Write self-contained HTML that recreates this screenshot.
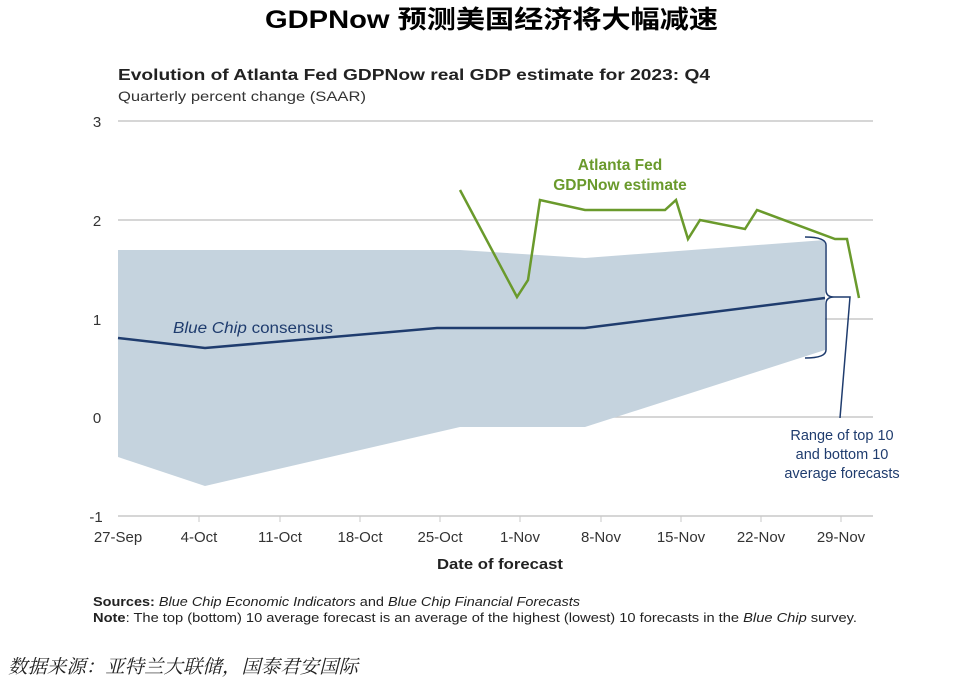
<!DOCTYPE html>
<html><head><meta charset="utf-8"><style>
body{margin:0;background:#fff;width:960px;height:681px;overflow:hidden}
svg{display:block}
</style></head><body>
<svg width="960" height="681" viewBox="0 0 960 681" xmlns="http://www.w3.org/2000/svg">
<text x="265" y="28" textLength="453" lengthAdjust="spacingAndGlyphs" font-family="Liberation Sans, Noto Sans CJK SC, sans-serif" font-size="25" font-weight="bold" fill="#000">GDPNow 预测美国经济将大幅减速</text>
<text x="118" y="80" textLength="592" lengthAdjust="spacingAndGlyphs" font-family="Liberation Sans, sans-serif" font-size="16" font-weight="bold" fill="#222">Evolution of Atlanta Fed GDPNow real GDP estimate for 2023: Q4</text>
<text x="118" y="101" textLength="248" lengthAdjust="spacingAndGlyphs" font-family="Liberation Sans, sans-serif" font-size="14" fill="#333">Quarterly percent change (SAAR)</text>
<g stroke="#c8c8c8" stroke-width="1.5">
<line x1="118" y1="121" x2="873" y2="121"/><line x1="118" y1="220" x2="873" y2="220"/>
<line x1="118" y1="319" x2="873" y2="319"/><line x1="118" y1="417" x2="873" y2="417"/>
<line x1="118" y1="516" x2="873" y2="516"/>
</g>
<g stroke="#c8c8c8" stroke-width="1">
<line x1="199" y1="516" x2="199" y2="522"/><line x1="280" y1="516" x2="280" y2="522"/><line x1="360" y1="516" x2="360" y2="522"/><line x1="440" y1="516" x2="440" y2="522"/><line x1="520" y1="516" x2="520" y2="522"/><line x1="601" y1="516" x2="601" y2="522"/><line x1="681" y1="516" x2="681" y2="522"/><line x1="761" y1="516" x2="761" y2="522"/><line x1="841" y1="516" x2="841" y2="522"/>
</g>
<g font-family="Liberation Sans, sans-serif" font-size="15" fill="#333" text-anchor="middle">
<text x="97" y="127">3</text><text x="97" y="226">2</text><text x="97" y="325">1</text><text x="97" y="423">0</text><text x="96" y="522">-1</text>
<text x="118" y="542">27-Sep</text><text x="199" y="542">4-Oct</text><text x="280" y="542">11-Oct</text><text x="360" y="542">18-Oct</text><text x="440" y="542">25-Oct</text><text x="520" y="542">1-Nov</text><text x="601" y="542">8-Nov</text><text x="681" y="542">15-Nov</text><text x="761" y="542">22-Nov</text><text x="841" y="542">29-Nov</text>
</g>
<text x="437" y="569" textLength="126" lengthAdjust="spacingAndGlyphs" font-family="Liberation Sans, sans-serif" font-size="15" font-weight="bold" fill="#222">Date of forecast</text>
<polygon points="118,250 460,250 585,258 825,240 825,350 585,427 460,427 205,486 118,457" fill="#c5d3de"/>
<polyline points="118,338 205,348 437,328 585,328 825,298" fill="none" stroke="#1f3c6e" stroke-width="2.5"/>
<polyline points="460,190 517,297 528,280 540,200 585,210 665,210 676,200 688,239 700,220 745,229 757,210 835,239 847,239 859,298" fill="none" stroke="#6a9a2c" stroke-width="2.5"/>
<path d="M805,237 Q826,237 826,245 L826,290 Q826,297 834,297 Q826,297 826,304 L826,350 Q826,358 805,358" fill="none" stroke="#1f3c6e" stroke-width="1.5"/>
<polyline points="834,297 850,297 840,418" fill="none" stroke="#1f3c6e" stroke-width="1.5"/>
<text x="173" y="333" textLength="160" lengthAdjust="spacingAndGlyphs" font-family="Liberation Sans, sans-serif" font-size="15.5" fill="#1f3c6e"><tspan font-style="italic">Blue Chip</tspan> consensus</text>
<g font-family="Liberation Sans, sans-serif" font-size="15.5" font-weight="bold" fill="#6a9a2c" text-anchor="middle">
<text x="620" y="170">Atlanta Fed</text><text x="620" y="190">GDPNow estimate</text></g>
<g font-family="Liberation Sans, sans-serif" font-size="14.5" fill="#1f3c6e" text-anchor="middle">
<text x="842" y="440">Range of top 10</text><text x="842" y="459">and bottom 10</text><text x="842" y="478">average forecasts</text></g>
<g font-family="Liberation Sans, sans-serif" font-size="12.5" fill="#222">
<text x="93" y="606" textLength="487" lengthAdjust="spacingAndGlyphs"><tspan font-weight="bold">Sources:</tspan> <tspan font-style="italic">Blue Chip Economic Indicators</tspan> and <tspan font-style="italic">Blue Chip Financial Forecasts</tspan></text>
<text x="93" y="622" textLength="764" lengthAdjust="spacingAndGlyphs"><tspan font-weight="bold">Note</tspan>: The top (bottom) 10 average forecast is an average of the highest (lowest) 10 forecasts in the <tspan font-style="italic">Blue Chip</tspan> survey.</text>
</g>
<text x="8" y="673" textLength="350" lengthAdjust="spacingAndGlyphs" font-family="Liberation Serif, Noto Serif CJK SC, serif" font-size="19" font-style="italic" fill="#222">数据来源：亚特兰大联储，国泰君安国际</text>
</svg>
</body></html>
